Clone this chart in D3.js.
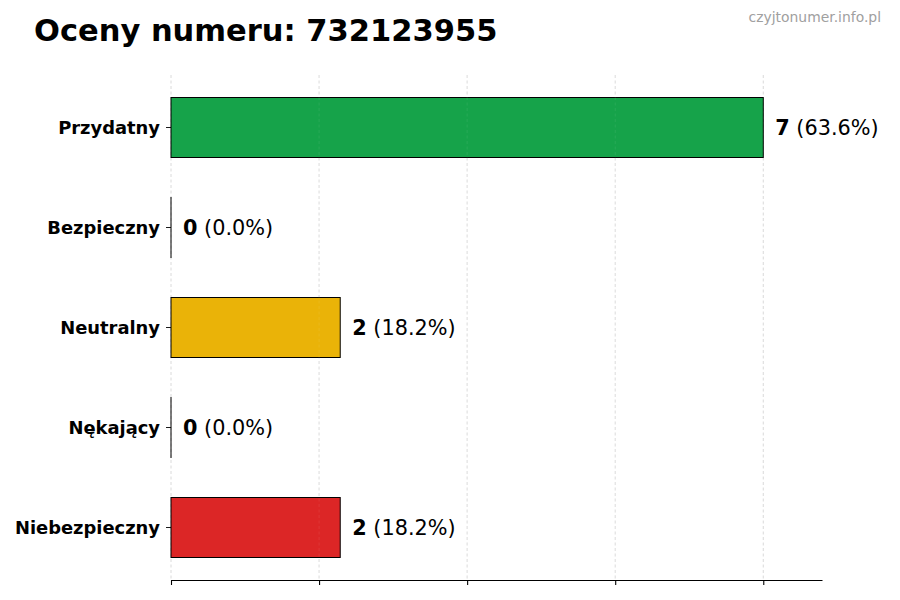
<!DOCTYPE html>
<html><head><meta charset="utf-8">
<script src="https://cdn.jsdelivr.net/npm/d3@7"></script>
<style>body{margin:0;background:#fff}svg{display:block}text{font-family:"DejaVu Sans",sans-serif}</style>
</head><body><svg id="c" width="900" height="600"></svg>
<script>
const categories = ["Przydatny","Bezpieczny","Neutralny","Nękający","Niebezpieczny"];
const values = [7,0,2,0,2];
const colors = ["#16a34a","#16a34a","#eab308","#dc2626","#dc2626"];
const xTicks = [0,1.75,3.5,5.25,7];
const title = "Oceny numeru: 732123955";
const watermark = "czyjtonumer.info.pl";

const svg = d3.select("#c");
const total = d3.sum(values);
const maxV = d3.max(values);
const x = d3.scaleLinear().domain([0, maxV*1.1]).range([171, 822.5]);
const y = d3.scaleBand().domain(categories).range([75,580]).paddingInner(0.4).paddingOuter(0.225);

svg.append("text").attr("x",34).attr("y",41).attr("font-size",30.5).attr("font-weight","bold").attr("fill","#000").text(title);
svg.append("text").attr("x",881).attr("y",22).attr("text-anchor","end").attr("font-size",13.9).attr("fill","#a0a0a0").text(watermark);

// grid
svg.append("g").selectAll("line").data(xTicks).join("line")
  .attr("x1",d=>x(d)).attr("x2",d=>x(d)).attr("y1",75).attr("y2",580)
  .attr("stroke","#d0d0d0").attr("stroke-width",0.8).attr("stroke-dasharray","3,2.5");

// bars
svg.append("g").selectAll("rect").data(categories).join("rect")
  .attr("x",x(0)).attr("y",d=>y(d))
  .attr("width",(d,i)=>Math.max(0.01, x(values[i])-x(0)))
  .attr("height",y.bandwidth())
  .attr("fill",(d,i)=>colors[i])
  .attr("stroke","#000").attr("stroke-width",1);

// faint grid over bars
svg.append("g").selectAll("line").data(xTicks.slice(1,-1)).join("line")
  .attr("x1",d=>x(d)).attr("x2",d=>x(d)).attr("y1",75).attr("y2",580)
  .attr("stroke","#fff").attr("stroke-opacity",0.1).attr("stroke-width",0.8).attr("stroke-dasharray","3,2.5");

// value labels
const lab = svg.append("g").selectAll("text").data(categories).join("text")
  .attr("x",(d,i)=>x(values[i])+12).attr("y",d=>y(d)+y.bandwidth()/2).attr("dy","0.36em")
  .attr("font-size",20.8).attr("fill","#000");
lab.append("tspan").attr("font-weight","bold").text((d,i)=>values[i]);
lab.append("tspan").text((d,i)=>" ("+(total?values[i]/total*100:0).toFixed(1)+"%)");

// x axis
const xa = svg.append("g").attr("transform","translate(0,580)")
  .call(d3.axisBottom(x).tickValues(xTicks).tickSize(5).tickFormat(""));
xa.select(".domain").attr("stroke","#000").attr("stroke-width",1.2).attr("d","M171,0.5H822.5");
xa.selectAll(".tick line").attr("stroke","#000").attr("stroke-width",1.1);

// y axis
const ya = svg.append("g").attr("transform","translate(171,0)")
  .call(d3.axisLeft(y).tickSize(5).tickPadding(6));
ya.select(".domain").remove();
ya.selectAll(".tick line").attr("stroke","#000").attr("stroke-width",0.9);
ya.selectAll(".tick text").attr("font-size",17.9).attr("font-weight","bold").attr("fill","#000")
  .style("font-family","'DejaVu Sans',sans-serif").attr("dy","0.36em");
</script></body></html>
